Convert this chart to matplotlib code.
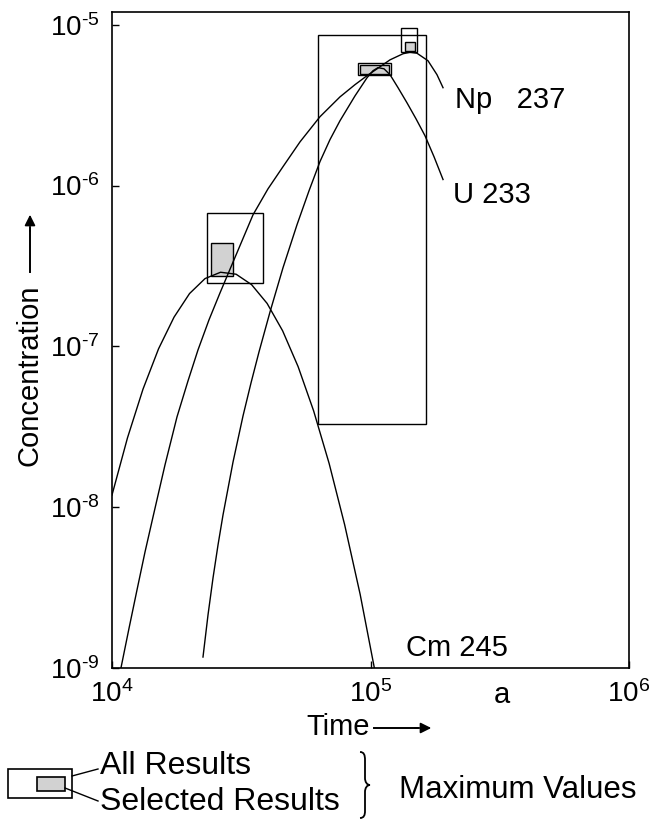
import numpy as np
import matplotlib
matplotlib.use('Agg')
import matplotlib.pyplot as plt
from matplotlib.patches import Rectangle, PathPatch
from matplotlib.path import Path
from matplotlib.lines import Line2D

plt.rcParams['font.family'] = ['Liberation Sans', 'DejaVu Sans']
plt.rcParams['mathtext.fontset'] = 'custom'
plt.rcParams['mathtext.rm'] = 'Liberation Sans'
plt.rcParams['mathtext.it'] = 'Liberation Sans:italic'

# curves (time in years, concentration)
cm_time = [1.0e4, 1.148e4, 1.318e4, 1.514e4, 1.738e4, 1.995e4, 2.291e4, 2.630e4, 3.020e4,
           3.467e4, 3.981e4, 4.571e4, 5.248e4, 6.026e4, 6.918e4, 7.943e4, 9.120e4, 1.035e5]
cm_conc = [1.19e-8, 2.70e-8, 5.42e-8, 9.66e-8, 1.52e-7, 2.13e-7, 2.64e-7, 2.89e-7, 2.81e-7,
           2.42e-7, 1.85e-7, 1.25e-7, 7.48e-8, 3.97e-8, 1.87e-8, 7.78e-9, 2.87e-9, 1.0e-9]

np_time = [1.083e4, 1.164e4, 1.249e4, 1.342e4, 1.441e4, 1.603e4, 1.784e4, 1.968e4, 2.151e4,
           2.372e4, 2.617e4, 3.044e4, 3.512e4, 4.013e4, 4.586e4, 5.338e4, 6.377e4, 7.621e4,
           8.710e4, 9.694e4, 1.060e5, 1.190e5, 1.336e5, 1.422e5, 1.513e5, 1.669e5, 1.808e5, 1.908e5]
np_conc = [1.0e-9, 1.77e-9, 3.05e-9, 5.27e-9, 8.7e-9, 1.83e-8, 3.64e-8, 6.10e-8, 9.5e-8,
           1.46e-7, 2.15e-7, 3.82e-7, 6.58e-7, 9.54e-7, 1.31e-6, 1.87e-6, 2.68e-6, 3.56e-6,
           4.24e-6, 4.82e-6, 5.32e-6, 6.05e-6, 6.60e-6, 6.75e-6, 6.65e-6, 5.97e-6, 4.89e-6, 4.06e-6]

u_time = [2.249e4, 2.352e4, 2.459e4, 2.571e4, 2.688e4, 2.939e4, 3.213e4, 3.450e4, 3.705e4,
          4.087e4, 4.586e4, 5.195e4, 5.782e4, 6.377e4, 6.970e4, 7.621e4, 8.710e4, 9.694e4,
          1.023e5, 1.069e5, 1.128e5, 1.190e5, 1.278e5, 1.384e5, 1.500e5, 1.625e5, 1.761e5, 1.908e5]
u_conc = [1.17e-9, 2.14e-9, 3.63e-9, 5.82e-9, 8.95e-9, 1.91e-8, 3.70e-8, 5.93e-8, 9.25e-8,
          1.64e-7, 3.08e-7, 5.70e-7, 9.27e-7, 1.41e-6, 1.93e-6, 2.53e-6, 3.61e-6, 4.68e-6,
          5.18e-6, 5.41e-6, 5.32e-6, 4.89e-6, 4.06e-6, 3.27e-6, 2.60e-6, 2.04e-6, 1.51e-6, 1.09e-6]

# maximum value boxes: (t_min, t_max, c_min, c_max)
all_boxes = [(2.33e4, 3.84e4, 2.48e-7, 6.76e-7),   # Cm 245
             (6.27e4, 1.64e5, 3.30e-8, 8.66e-6),   # Np 237
             (8.95e4, 1.20e5, 4.89e-6, 5.81e-6),   # U 233
             (1.31e5, 1.51e5, 6.79e-6, 9.58e-6)]   # Np 237 (upper)
sel_boxes = [(2.41e4, 2.94e4, 2.75e-7, 4.40e-7),
             (9.10e4, 1.18e5, 4.96e-6, 5.64e-6),
             (1.36e5, 1.49e5, 6.89e-6, 7.84e-6)]

labels = ['Np   237', 'U 233', 'Cm 245']
label_time = [2.12e5, 2.09e5, 1.37e5]
label_conc = [3.41e-6, 8.75e-7, 1.33e-9]

xticks = [1e4, 1e5, 1e6]
xticklabels = [r'$\mathregular{10^4}$', r'$\mathregular{10^5}$', r'$\mathregular{10^6}$']
yticks = [1e-9, 1e-8, 1e-7, 1e-6, 1e-5]
yticklabels = [r'$\mathregular{10^{\text{-}9}}$', r'$\mathregular{10^{\text{-}8}}$',
               r'$\mathregular{10^{\text{-}7}}$', r'$\mathregular{10^{\text{-}6}}$',
               r'$\mathregular{10^{\text{-}5}}$']

W, H = 649, 822
def fx(px):
    return px / W
def fy(py):
    return 1 - py / H

fig = plt.figure(figsize=(6.49, 8.22), dpi=100)
ax = fig.add_axes([fx(112), fy(668), (629 - 112) / W, (668 - 12) / H])
ax.set_xscale('log')
ax.set_yscale('log')
ax.set_xlim(1e4, 1e6)
ax.set_ylim(1e-9, 1.2e-5)

for (t0, t1, c0, c1) in all_boxes:
    ax.add_patch(Rectangle((t0, c0), t1 - t0, c1 - c0, fill=False, ec='black', lw=1.0, zorder=2))
for (t0, t1, c0, c1) in sel_boxes:
    ax.add_patch(Rectangle((t0, c0), t1 - t0, c1 - c0, fc='#d2d2d2', ec='black', lw=1.0, zorder=2))

for t, c in [(cm_time, cm_conc), (np_time, np_conc), (u_time, u_conc)]:
    ax.plot(t, c, color='black', lw=1.0, zorder=3)

for lab, t, c in zip(labels, label_time, label_conc):
    ax.text(t, c, lab, fontsize=21, ha='left', va='center')

ax.set_xticks(xticks, labels=xticklabels)
ax.set_yticks(yticks, labels=yticklabels)
ax.minorticks_off()
ax.tick_params(direction='in', length=5, width=1.0, labelsize=20)
ax.tick_params(axis='x', pad=9)
ax.tick_params(axis='y', pad=9)
for s in ax.spines.values():
    s.set_linewidth(1.2)

fig.text(fx(502), fy(695), 'a', fontsize=21, ha='center', va='center')

# axis titles with arrows
fig.text(fx(338), fy(727), 'Time', fontsize=21, ha='center', va='center')
fig.add_artist(Line2D([fx(374), fx(418)], [fy(728), fy(728)], color='black', lw=1.4))
ax.annotate('', xy=(fx(434), fy(728)), xytext=(fx(412), fy(728)), xycoords='figure fraction',
            arrowprops=dict(arrowstyle='-|>', color='black', lw=1.2, mutation_scale=16))

fig.text(fx(30), fy(375), 'Concentration', fontsize=21, rotation=90, ha='center', va='center')
fig.add_artist(Line2D([fx(30), fx(30)], [fy(272), fy(228)], color='black', lw=1.4))
ax.annotate('', xy=(fx(30), fy(212)), xytext=(fx(30), fy(234)), xycoords='figure fraction',
            arrowprops=dict(arrowstyle='-|>', color='black', lw=1.2, mutation_scale=16))

# legend
fig.add_artist(Rectangle((fx(8), fy(798)), (72 - 8) / W, (798 - 769) / H, fill=False,
                         ec='black', lw=1.2, transform=fig.transFigure))
fig.add_artist(Rectangle((fx(37), fy(791)), (65 - 37) / W, (791 - 777) / H, fc='#d2d2d2',
                         ec='black', lw=1.2, transform=fig.transFigure))
fig.add_artist(Line2D([fx(72), fx(98)], [fy(776), fy(769)], color='black', lw=1.0))
fig.add_artist(Line2D([fx(65), fx(98)], [fy(788), fy(801)], color='black', lw=1.0))
fig.text(fx(100), fy(766), 'All Results', fontsize=23, ha='left', va='center')
fig.text(fx(100), fy(802), 'Selected Results', fontsize=23, ha='left', va='center')

brace = [(360, 752), (364, 752), (365, 755), (365, 760), (365, 778),
         (365, 782), (367, 785), (370, 785), (367, 785), (365, 788), (365, 792),
         (365, 811), (365, 815), (364, 818), (360, 818)]
codes = [Path.MOVETO, Path.CURVE4, Path.CURVE4, Path.CURVE4, Path.LINETO,
         Path.CURVE4, Path.CURVE4, Path.CURVE4, Path.CURVE4, Path.CURVE4, Path.CURVE4,
         Path.LINETO, Path.CURVE4, Path.CURVE4, Path.CURVE4]
brace_path = Path([(fx(x), fy(y)) for x, y in brace], codes)
fig.add_artist(PathPatch(brace_path, fill=False, ec='black', lw=1.3, transform=fig.transFigure))
fig.text(fx(399), fy(790), 'Maximum Values', fontsize=22.5, ha='left', va='center')

fig.savefig('out.png', dpi=100)
